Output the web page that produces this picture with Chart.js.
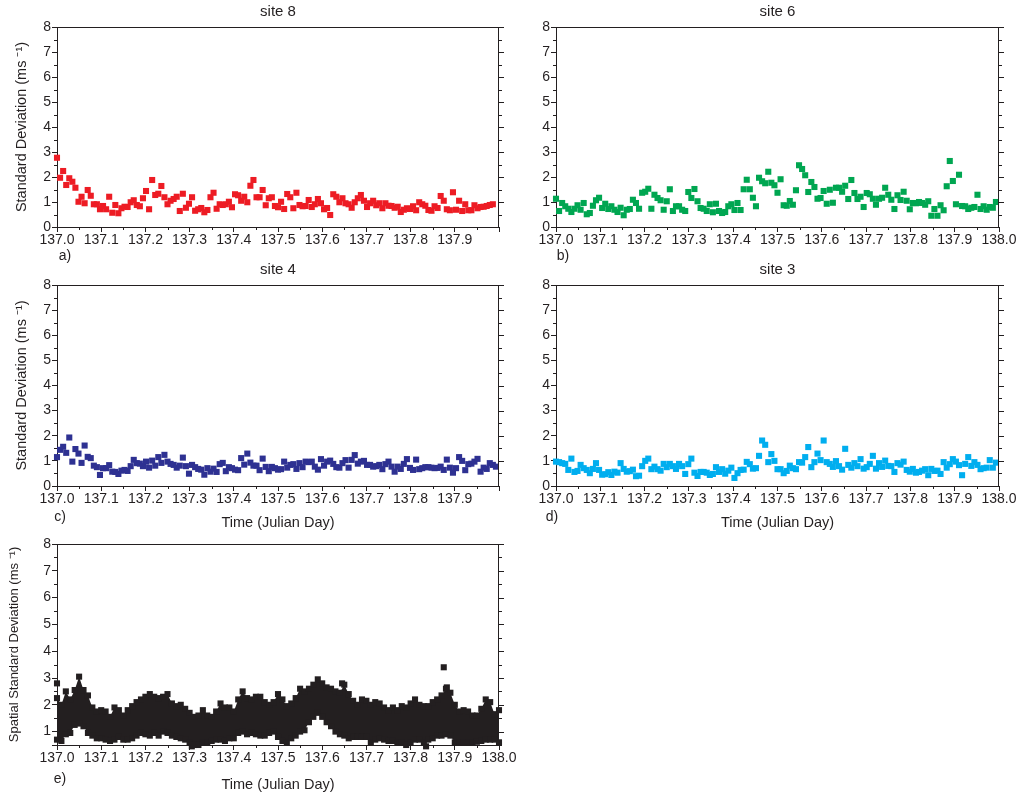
<!DOCTYPE html>
<html>
<head>
<meta charset="UTF-8">
<title>Standard deviation per site</title>
<script src="https://cdn.jsdelivr.net/npm/chart.js@4.4.1/dist/chart.umd.min.js"></script>
<style>
  body { margin: 0; background: #fff; }
  canvas { position: absolute; }
</style>
</head>
<body>
<canvas id="site8" width="510" height="265" style="left:0;top:0"></canvas>
<canvas id="site6" width="509" height="265" style="left:510px;top:0"></canvas>
<canvas id="site4" width="510" height="274" style="left:0;top:258px"></canvas>
<canvas id="site3" width="509" height="274" style="left:510px;top:258px"></canvas>
<canvas id="spatial" width="530" height="263" style="left:0;top:532px"></canvas>

<script>
// 10-minute samples, Julian day 137
var t0 = 137.0, dt = 1 / 144;

var site8 = [2.77,1.97,2.24,1.68,1.95,1.81,1.57,1.01,1.21,0.95,1.48,1.25,0.91,0.91,0.71,0.84,0.71,1.21,0.57,0.88,
  0.55,0.75,0.81,0.80,0.99,1.07,0.88,0.83,1.15,1.44,0.71,1.88,1.28,1.33,1.64,1.19,0.91,1.05,1.12,1.21,
  0.64,1.33,0.77,0.93,1.19,0.65,0.71,0.76,0.59,0.68,1.19,1.37,0.73,0.91,0.88,0.91,1.01,0.79,1.31,1.27,
  1.05,1.21,0.99,1.65,1.88,1.19,1.19,1.48,0.87,1.15,1.19,0.84,0.79,1.01,0.72,1.32,1.19,0.75,1.37,0.88,
  0.83,0.84,1.08,0.80,0.91,1.12,0.95,0.71,0.76,0.48,1.31,1.21,0.99,1.15,0.95,0.91,0.77,0.99,1.15,1.28,
  1.05,0.80,0.95,1.05,0.87,0.95,0.75,0.95,0.85,0.84,0.77,0.81,0.60,0.69,0.75,0.72,0.83,0.67,0.99,0.91,
  0.85,0.68,0.65,0.83,0.76,1.24,1.05,0.71,0.67,1.39,0.69,1.05,0.64,0.91,0.67,0.67,0.87,0.75,0.80,0.81,
  0.84,0.88,0.91];

var site6 = [1.13,0.64,0.96,0.83,0.73,0.60,0.73,0.87,0.69,0.96,0.51,0.56,0.85,1.07,1.17,0.76,0.93,0.72,0.83,0.69,
  0.60,0.77,0.47,0.69,0.72,1.09,0.96,0.73,1.37,1.41,1.53,0.73,1.29,1.16,1.07,0.69,1.03,1.51,0.64,0.83,
  0.83,0.69,0.64,1.40,1.16,1.52,1.03,0.76,0.73,0.64,0.91,0.59,0.93,0.64,0.56,0.60,0.83,0.91,0.68,0.96,
  0.68,1.51,1.89,1.51,1.17,0.83,1.97,1.83,1.75,2.21,1.77,1.67,1.37,1.91,0.87,0.85,1.04,0.89,1.47,2.47,
  2.32,2.07,1.40,1.80,1.60,1.13,1.16,1.44,0.93,1.49,0.97,1.57,1.57,1.41,1.65,1.12,1.88,1.36,1.12,1.21,
  0.80,1.36,1.31,1.13,0.89,1.13,1.17,1.57,1.29,1.09,0.72,1.27,1.08,1.41,1.05,0.71,0.96,0.95,1.00,0.96,
  0.89,1.03,0.45,0.72,0.45,0.87,0.67,1.63,2.64,1.84,0.91,2.09,0.84,0.83,0.72,0.77,0.80,1.29,0.72,0.83,
  0.69,0.80,0.77,1.00];

var site4 = [1.15,1.44,1.56,1.32,1.93,0.97,1.47,1.29,0.92,1.61,1.16,1.11,0.81,0.75,0.44,0.71,0.71,0.83,0.57,0.56,
  0.48,0.61,0.64,0.60,0.79,1.04,0.91,0.89,0.79,0.97,0.73,1.01,0.81,1.15,0.92,1.24,0.97,0.88,0.84,0.73,
  0.81,1.13,0.79,0.49,0.84,0.75,0.68,0.65,0.45,0.71,0.57,0.69,0.56,0.87,0.92,0.59,0.75,0.71,0.65,0.63,
  1.11,0.85,1.29,0.93,0.81,0.81,0.63,1.09,0.76,0.59,0.76,0.71,0.65,0.67,0.97,0.73,0.84,0.87,0.68,0.91,
  0.75,0.97,0.95,0.97,0.77,0.65,1.07,0.81,0.97,1.01,0.88,0.75,0.73,0.91,1.03,0.73,1.04,1.23,0.89,0.97,
  1.00,0.84,0.84,0.77,0.79,0.84,0.67,0.87,0.97,0.77,0.57,0.77,0.68,0.88,1.07,0.72,0.64,1.05,0.67,0.71,
  0.75,0.75,0.73,0.71,0.72,0.77,0.64,1.05,0.73,0.53,0.71,1.15,1.00,0.63,0.87,0.89,0.97,1.08,0.57,0.73,
  0.68,0.91,0.84,0.77];

var site3 = [0.97,0.95,0.91,0.88,0.64,1.09,0.56,0.60,0.84,0.71,0.64,0.51,0.68,0.91,0.64,0.45,0.47,0.55,0.44,0.57,
  0.53,0.91,0.68,0.57,0.59,0.65,0.39,0.41,0.79,1.00,1.09,0.67,0.77,0.67,0.61,0.88,0.75,0.88,0.79,0.68,
  0.88,0.79,0.48,0.87,1.09,0.53,0.40,0.56,0.56,0.53,0.44,0.48,0.75,0.56,0.67,0.49,0.61,0.73,0.32,0.51,
  0.64,0.65,0.96,0.87,0.69,0.71,1.20,1.81,1.64,0.95,1.27,1.00,0.67,0.67,0.51,0.60,0.81,0.71,0.67,0.95,
  0.93,1.15,1.55,0.75,0.95,1.29,1.03,1.81,0.95,0.88,0.76,0.99,0.79,0.65,1.48,0.84,0.73,0.91,0.79,1.07,
  0.69,0.75,0.88,1.20,0.69,0.91,0.76,1.01,0.80,0.79,0.56,0.91,0.85,0.97,0.64,0.57,0.68,0.53,0.56,0.61,
  0.67,0.43,0.68,0.60,0.61,0.48,0.95,0.73,0.87,1.07,0.97,0.83,0.43,0.88,1.15,0.80,0.95,0.84,0.67,0.71,
  0.73,1.03,0.73,0.93];

// spatial spread of all sites: band edges every 0.01 day plus a few isolated values
var spatialStep = 0.01;
var spatialHigh = [2.25,2.0,2.5,2.2,2.55,3.05,2.55,2.35,1.9,1.75,
  1.8,1.75,1.55,1.9,1.8,1.6,1.8,1.95,2.1,2.2,
  2.3,2.4,2.3,2.25,2.3,2.4,2.05,1.95,2.0,1.85,
  1.7,1.55,1.6,1.8,1.6,1.55,1.75,2.05,1.9,1.9,
  1.75,2.2,2.5,2.25,2.2,2.3,2.3,2.1,2.0,2.1,
  2.4,2.2,1.95,2.05,2.25,2.6,2.5,2.6,2.75,2.95,
  2.8,2.65,2.6,2.5,2.45,2.75,2.4,2.15,2.0,2.2,
  2.15,2.0,2.1,2.05,1.9,1.8,1.9,1.8,1.95,1.9,
  2.05,2.2,2.0,1.95,1.95,2.1,2.2,2.35,2.6,2.45,
  2.0,1.75,1.8,1.75,1.6,1.6,1.85,2.2,2.1,1.65,1.8];
var spatialLow = [0.7,0.65,0.9,0.95,1.25,1.3,1.2,0.95,0.85,0.75,
  0.75,0.7,0.65,0.7,0.8,0.7,0.7,0.75,0.85,0.95,
  0.9,0.85,0.95,0.85,1.0,0.95,0.85,0.8,0.75,0.7,
  0.6,0.5,0.5,0.58,0.6,0.65,0.7,0.7,0.65,0.75,
  0.75,0.95,1.0,0.9,0.95,0.9,0.85,0.85,0.95,1.0,
  0.8,0.65,0.6,0.75,0.85,1.0,1.05,1.35,1.55,1.7,
  1.55,1.35,1.2,1.0,0.9,0.85,0.75,0.8,0.8,0.8,
  0.8,0.6,0.7,0.75,0.7,0.65,0.65,0.6,0.6,0.5,
  0.6,0.7,0.7,0.6,0.7,0.75,0.85,0.85,0.9,0.85,
  0.6,0.6,0.6,0.6,0.6,0.62,0.65,0.7,0.7,0.7,0.6];
var spatialOutT = [137.0, 137.645, 137.875, 137.882, 137.835, 137.305];
var spatialOutV = [2.8, 2.8, 3.4, 2.65, 0.45, 0.45];

var ink = '#231f20';
Chart.defaults.font.family = '"Liberation Sans", Arial, sans-serif';
Chart.defaults.color = ink;

function series(vals, start, step) {
  return vals.map(function (v, i) { return {x: start + i * step, y: v}; });
}

function pointSet(data, color, extra) {
  var ds = {
    data: data,
    pointStyle: 'rect',
    pointRadius: 4.3,
    pointBorderWidth: 0,
    backgroundColor: color,
    borderColor: color,
    clip: false
  };
  for (var k in extra) ds[k] = extra[k];
  return ds;
}

// box frame, minor ticks, right-hand ticks and the panel letter
var framePlugin = {
  id: 'frame',
  afterDraw: function (chart, args, o) {
    var c = chart.ctx, a = chart.chartArea, xs = chart.scales.x, ys = chart.scales.y;
    c.save();
    c.strokeStyle = ink;
    c.lineWidth = 1;
    c.beginPath();
    c.moveTo(a.left, a.top + 0.5); c.lineTo(a.right, a.top + 0.5);
    c.moveTo(a.right - 0.5, a.top); c.lineTo(a.right - 0.5, a.bottom);
    for (var k = 1; k < 20; k += 2) {
      var px = Math.round(xs.getPixelForValue(137 + k * 0.05)) + 0.5;
      c.moveTo(px, a.bottom); c.lineTo(px, a.bottom + 3);
    }
    for (var v = 0.5; v <= 8; v += 0.5) {
      if (v < ys.min) continue;
      var py = Math.round(ys.getPixelForValue(v)) + 0.5;
      var len = (v % 1 === 0) ? 5 : 3;
      if (v % 1 !== 0) { c.moveTo(a.left, py); c.lineTo(a.left - len, py); }
      c.moveTo(a.right, py); c.lineTo(a.right + len, py);
    }
    c.stroke();
    c.fillStyle = ink;
    c.font = '14px "Liberation Sans", Arial, sans-serif';
    c.textAlign = 'center';
    c.textBaseline = 'middle';
    c.fillText(o.letter, a.left + o.dx, a.bottom + o.dy);
    c.restore();
  }
};

function panel(id, o) {
  return new Chart(document.getElementById(id), {
    type: 'scatter',
    data: {datasets: o.datasets},
    options: {
      responsive: false,
      animation: false,
      events: [],
      layout: {padding: o.pad},
      plugins: {
        legend: {display: false},
        tooltip: {enabled: false},
        title: {
          display: !!o.title,
          text: o.title || '',
          fullSize: false,
          color: ink,
          font: {size: 15, weight: 'normal'},
          padding: {top: 3, bottom: 6}
        },
        frame: {letter: o.letter, dx: o.letterDx, dy: o.letterDy}
      },
      scales: {
        x: {
          type: 'linear',
          min: 137,
          max: 138,
          afterFit: function (s) { s.height = o.xH; },
          ticks: {
            stepSize: 0.1,
            autoSkip: false,
            maxRotation: 0,
            padding: 0,
            font: {size: 14},
            color: ink,
            callback: function (v) { return (o.hideLast && v > 137.95) ? '' : v.toFixed(1); }
          },
          grid: {drawOnChartArea: false, tickLength: 5, color: ink},
          border: {color: ink},
          title: {
            display: !!o.xTitle,
            text: o.xTitle || '',
            color: ink,
            font: {size: 14.5},
            padding: {top: 0, bottom: o.xTitlePad || 0}
          }
        },
        y: {
          min: o.yMin,
          max: 8,
          afterFit: function (s) { s.width = o.yW; },
          afterBuildTicks: function (s) {
            s.ticks = [1, 2, 3, 4, 5, 6, 7, 8].map(function (v) { return {value: v}; });
            if (o.yMin < 1) s.ticks.unshift({value: o.yMin});
          },
          ticks: {
            stepSize: 1,
            padding: 1,
            font: {size: 14},
            color: ink,
            callback: function (v) { return Number.isInteger(v) ? String(v) : ''; }
          },
          grid: {drawOnChartArea: false, tickLength: 5, color: ink},
          border: {color: ink},
          title: {
            display: !!o.yTitle,
            text: o.yTitle || '',
            color: ink,
            font: {size: o.yTitleSize || 13},
            padding: {top: o.yTitlePad || 0, bottom: 0}
          }
        }
      }
    },
    plugins: [framePlugin]
  });
}

var sdTitle = 'Standard Deviation (ms \u207B\u00B9)';

panel('site8', {
  title: 'site 8', letter: 'a)', letterDx: 8, letterDy: 29,
  datasets: [pointSet(series(site8, t0, dt), 'rgb(237,28,36)')],
  pad: {left: 0, right: 11, top: 0, bottom: 0},
  yW: 57, xH: 38, yMin: 0, hideLast: true,
  yTitle: sdTitle, yTitleSize: 14.5, yTitlePad: 13
});

panel('site6', {
  title: 'site 6', letter: 'b)', letterDx: 7, letterDy: 29,
  datasets: [pointSet(series(site6, t0, dt), 'rgb(0,166,81)')],
  pad: {left: 0, right: 20, top: 0, bottom: 0},
  yW: 46, xH: 38, yMin: 0
});

panel('site4', {
  title: 'site 4', letter: 'c)', letterDx: 3, letterDy: 31,
  datasets: [pointSet(series(site4, t0, dt), 'rgb(46,49,146)')],
  pad: {left: 0, right: 11, top: 0, bottom: 0},
  yW: 57, xH: 46, yMin: 0, hideLast: true,
  yTitle: sdTitle, yTitleSize: 14.5, yTitlePad: 13,
  xTitle: 'Time (Julian Day)'
});

panel('site3', {
  title: 'site 3', letter: 'd)', letterDx: -4, letterDy: 31,
  datasets: [pointSet(series(site3, t0, dt), 'rgb(0,174,239)')],
  pad: {left: 0, right: 20, top: 0, bottom: 0},
  yW: 46, xH: 46, yMin: 0,
  xTitle: 'Time (Julian Day)'
});

// the band between the low and high edges is filled solid
var black = 'rgb(35,31,32)';
panel('spatial', {
  letter: 'e)', letterDx: 3, letterDy: 34,
  datasets: [
    pointSet(series(spatialLow, t0, spatialStep), black, {fill: false, showLine: true, borderWidth: 0}),
    pointSet(series(spatialHigh, t0, spatialStep), black, {fill: '-1', showLine: true, borderWidth: 0}),
    pointSet(spatialOutT.map(function (t, i) { return {x: t, y: spatialOutV[i]}; }), black)
  ],
  pad: {left: 0, right: 31, top: 12, bottom: 0},
  yW: 57, xH: 50, yMin: 0.5,
  yTitle: 'Spatial Standard Deviation (ms \u207B\u00B9)', yTitlePad: 7,
  xTitle: 'Time (Julian Day)', xTitlePad: 1
});
</script>
</body>
</html>
